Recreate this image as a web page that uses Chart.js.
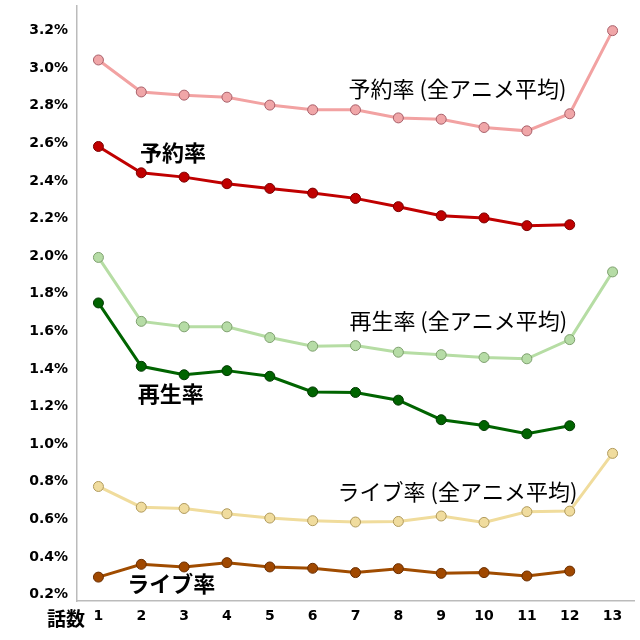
<!DOCTYPE html>
<html>
<head>
<meta charset="utf-8">
<script src="https://cdn.jsdelivr.net/npm/chart.js@4/dist/chart.umd.min.js"></script>
<style>
html,body{margin:0;padding:0;background:#fff;}
#wrap{width:640px;height:640px;position:relative;}
</style>
</head>
<body>
<div id="wrap"><canvas id="c" width="640" height="640"></canvas></div>
<script>
const episodes = ['1','2','3','4','5','6','7','8','9','10','11','12','13'];
const reserveAvg = [3.043, 2.873, 2.856, 2.845, 2.803, 2.778, 2.778, 2.735, 2.728, 2.684, 2.666, 2.757, 3.199];
const reserve    = [2.583, 2.443, 2.420, 2.385, 2.360, 2.335, 2.307, 2.263, 2.215, 2.203, 2.162, 2.167, null];
const playAvg    = [1.993, 1.653, 1.624, 1.624, 1.567, 1.521, 1.524, 1.489, 1.476, 1.461, 1.454, 1.556, 1.916];
const play       = [1.751, 1.414, 1.369, 1.391, 1.361, 1.278, 1.275, 1.234, 1.130, 1.099, 1.055, 1.098, null];
const liveAvg    = [0.775, 0.665, 0.658, 0.630, 0.607, 0.593, 0.586, 0.589, 0.618, 0.584, 0.641, 0.644, 0.951];
const live       = [0.293, 0.361, 0.347, 0.370, 0.347, 0.340, 0.317, 0.338, 0.313, 0.317, 0.299, 0.325, null];
const yTicks = [0.2, 0.4, 0.6, 0.8, 1.0, 1.2, 1.4, 1.6, 1.8, 2.0, 2.2, 2.4, 2.6, 2.8, 3.0, 3.2];
const xAxisTitle = '話数';
const seriesNames = ['予約率 (全アニメ平均)', '予約率', '再生率 (全アニメ平均)', '再生率', 'ライブ率 (全アニメ平均)', 'ライブ率'];

function ds(label, data, line, fill, border) {
  return {
    label, data,
    borderColor: line, borderWidth: 3,
    pointBackgroundColor: fill, pointBorderColor: border, pointBorderWidth: 1,
    pointRadius: 5, pointHoverRadius: 5,
    tension: 0, spanGaps: false
  };
}

// text labels: [text, category position (fractional index), value, bold]
const labelDefs = [
  [seriesNames[0], 8.38, 2.892, false],
  [seriesNames[1], 1.74, 2.548, true],
  [seriesNames[2], 8.40, 1.657, false],
  [seriesNames[3], 1.69, 1.271, true],
  [seriesNames[4], 8.38, 0.749, false],
  [seriesNames[5], 1.70, 0.260, true]
];

const textPlugin = {
  id: 'texts',
  afterDatasetsDraw(chart) {
    const ctx = chart.ctx;
    const xs = chart.scales.x, ys = chart.scales.y;
    ctx.save();
    ctx.fillStyle = '#000';
    ctx.textBaseline = 'middle';
    ctx.textAlign = 'center';
    labelDefs.forEach(([t, ci, v, bold]) => {
      const i0 = Math.floor(ci);
      const x0 = xs.getPixelForValue(i0);
      const x1 = xs.getPixelForValue(i0 + 1);
      const x = x0 + (x1 - x0) * (ci - i0);
      const y = ys.getPixelForValue(v);
      ctx.font = (bold ? 'bold 22px' : '22px') + ' "Noto Sans CJK JP", sans-serif';
      ctx.fillText(t, x, y);
    });
    ctx.font = 'bold 19px "Noto Sans CJK JP", sans-serif';
    ctx.fillText(xAxisTitle, 66, xs.top + 18);
    ctx.restore();
  }
};

new Chart(document.getElementById('c'), {
  type: 'line',
  data: {
    labels: episodes,
    datasets: [
      ds(seriesNames[0], reserveAvg, '#F2A2A2', '#F0A6A8', '#A8606A'),
      ds(seriesNames[1], reserve, '#C00000', '#C00000', '#7A0000'),
      ds(seriesNames[2], playAvg, '#B6DDA4', '#B6DCA6', '#7EA06E'),
      ds(seriesNames[3], play, '#006400', '#006400', '#003800'),
      ds(seriesNames[4], liveAvg, '#F0DC9C', '#F0DC9E', '#B09A5C'),
      ds(seriesNames[5], live, '#A04C00', '#A04800', '#6A2E00')
    ]
  },
  options: {
    responsive: false,
    animation: false,
    layout: { padding: { top: 5, right: 5, left: 0, bottom: 0 } },
    plugins: { legend: { display: false }, tooltip: { enabled: false } },
    scales: {
      x: {
        offset: true,
        grid: { display: false, drawOnChartArea: false, drawTicks: true, tickLength: 5, offset: false, color: '#BBBBBB' },
        border: { display: true, color: '#BBBBBB', width: 1.5 },
        ticks: { color: '#000', font: { family: 'DejaVu Sans', weight: 'bold', size: 14 }, padding: 2, maxRotation: 0 },
        afterFit(s) { s.height = 39; s.paddingLeft = 0; s.paddingRight = 0; }
      },
      y: {
        min: 0.166, max: 3.33,
        grid: { display: false, drawOnChartArea: false, drawTicks: true, tickLength: 5, color: '#BBBBBB' },
        border: { display: true, color: '#BBBBBB', width: 1.5 },
        afterBuildTicks(s) { s.ticks = yTicks.map(v => ({ value: v })); },
        ticks: {
          color: '#000', font: { family: 'DejaVu Sans', weight: 'bold', size: 14 }, padding: 4,
          callback: v => v.toFixed(1) + '%'
        },
        afterFit(s) { s.width = 77; s.paddingTop = 0; s.paddingBottom = 0; }
      }
    }
  },
  plugins: [textPlugin]
});
</script>
</body>
</html>
